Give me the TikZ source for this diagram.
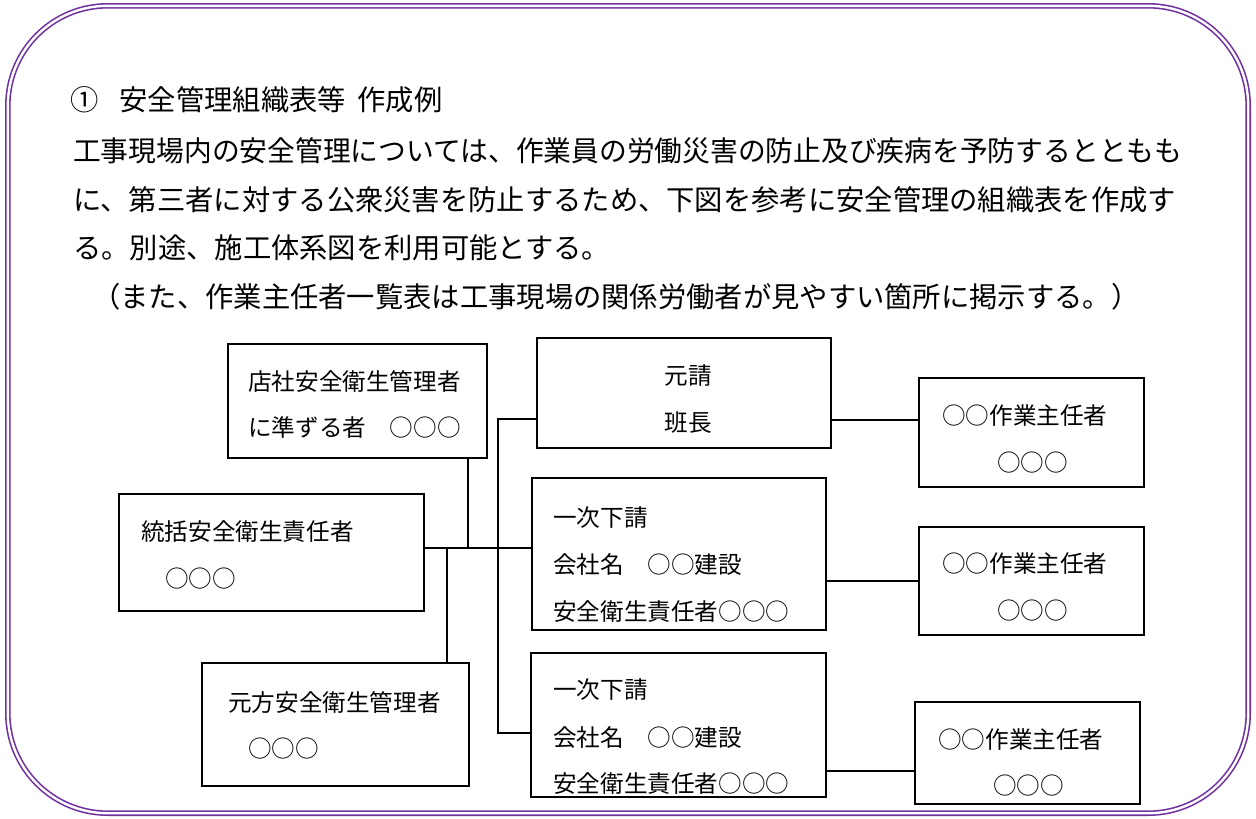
\documentclass[tikz,border=0pt]{standalone}
\usepackage{graphicx}
\usepackage{fontspec}
\setmainfont{Noto Sans CJK JP}
\definecolor{borderpurple}{HTML}{7030A0}
\begin{document}
\begin{tikzpicture}[x=1pt,y=-1pt,
  box/.style={draw=black, line width=2.4pt, inner sep=0pt, fill=white},
  body/.style={anchor=west, inner sep=0pt, font=\fontsize{28.3}{31}\selectfont, text height=24.9pt, text depth=3.4pt},
  lbl/.style={anchor=west, inner sep=0pt, font=\fontsize{23.6}{26}\selectfont, text height=20.8pt, text depth=2.8pt},
  clbl/.style={lbl, anchor=center},
  conn/.style={draw=black, line width=1.2pt}]
\useasboundingbox (0,0) rectangle (1256,819);
\fill[white] (0,0) rectangle (1256,819);
\draw[draw=borderpurple, double=white, double distance=2.4pt, line width=1.6pt, rounded corners=100pt] (7.8,5.8) rectangle (1248.2,813.2);

% header text
\node[body] (t1) at (70,100) {①\hspace{0.75em}安全管理組織表等\hspace{0.4em}作成例};
\node[body] (t2) at (73,151) {\scalebox{0.981}[1]{工事現場内の安全管理については、作業員の労働災害の防止及び疾病を予防するとともも}};
\node[body] (t3) at (73,200) {に、第三者に対する公衆災害を防止するため、下図を参考に安全管理の組織表を作成す};
\node[body] (t4) at (73,248) {る。別途、施工体系図を利用可能とする。};
\node[body] (t5) at (92,297) {（また、作業主任者一覧表は工事現場の関係労働者が見やすい箇所に掲示する。）};

% junction coordinates
\coordinate (jten) at (468,548);
\coordinate (jmk) at (447,548);
\coordinate (bustop) at (498,419);
\coordinate (busbot) at (498,733);
\coordinate (c1) at (875,420);
\coordinate (c3) at (870,771);

% boxes
\node[box, minimum width=259pt, minimum height=114pt] (ten) at (357.5,401) {};
\node[box, minimum width=305pt, minimum height=117pt] (tokatsu) at (271.5,552.5) {};
\node[box, minimum width=294pt, minimum height=110pt] (motouke) at (684,393) {};
\node[box, minimum width=294pt, minimum height=152pt] (sub1) at (679,554) {};
\node[box, minimum width=295pt, minimum height=144pt] (sub2) at (678.5,725) {};
\node[box, minimum width=267pt, minimum height=123pt] (motokata) at (335.5,724.5) {};
\node[box, minimum width=225pt, minimum height=109pt] (chief1) at (1031.5,432.5) {};
\node[box, minimum width=225pt, minimum height=108pt] (chief2) at (1031.5,581) {};
\node[box, minimum width=225pt, minimum height=102pt] (chief3) at (1027.5,753) {};

% connectors
\draw[conn] (ten.south -| jten) -- (jten);
\draw[conn] (tokatsu.east |- jten) -- (sub1.west |- jten);
\draw[conn] (jmk) -- (motokata.north -| jmk);
\draw[conn] (motouke.west |- bustop) -- (bustop) -- (busbot) -- (sub2.west |- busbot);
\draw[conn] (motouke.east |- c1) -- (c1) -- (chief1.west |- c1);
\draw[conn] (sub1.east |- chief2.west) -- (chief2.west);
\draw[conn] (sub2.east |- c3) -- (c3) -- (chief3.west |- c3);

% box texts
\node[lbl] (ten1) at (248,381) {店社安全衛生管理者};
\node[lbl] (ten2) at (248,427) {に準ずる者\hspace{1em}○○○};
\node[lbl] (tk1) at (141,531) {統括安全衛生責任者};
\node[lbl] (tk2) at (165,578) {○○○};
\node[clbl] (mu1) at (688,375) {元請};
\node[clbl] (mu2) at (688,422) {班長};
\node[lbl] (s11) at (553,517) {一次下請};
\node[lbl] (s12) at (553,564) {会社名\hspace{1em}○○建設};
\node[lbl] (s13) at (553,611) {安全衛生責任者○○○};
\node[lbl] (s21) at (553,689) {一次下請};
\node[lbl] (s22) at (553,737) {会社名\hspace{1em}○○建設};
\node[lbl] (s23) at (553,783) {安全衛生責任者○○○};
\node[lbl] (mk1) at (228,702) {元方安全衛生管理者};
\node[lbl] (mk2) at (248,748) {○○○};
\node[lbl] (ch11) at (942,415) {○○作業主任者};
\node[lbl] (ch12) at (997,462) {○○○};
\node[lbl] (ch21) at (942,563) {○○作業主任者};
\node[lbl] (ch22) at (997,610) {○○○};
\node[lbl] (ch31) at (938,739) {○○作業主任者};
\node[lbl] (ch32) at (993,785) {○○○};
\end{tikzpicture}
\end{document}
